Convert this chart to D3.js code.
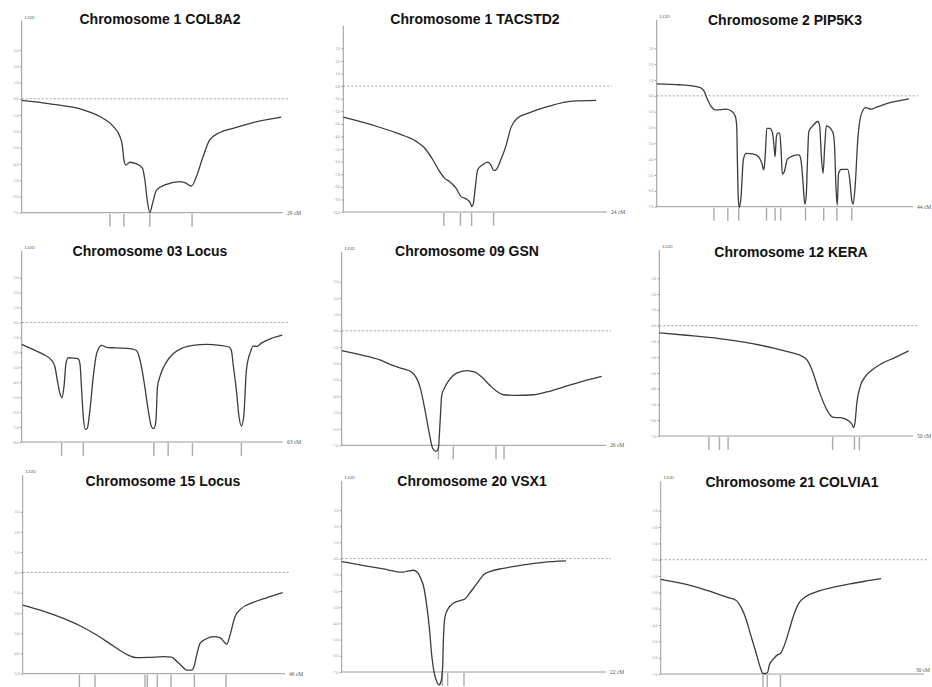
<!DOCTYPE html>
<html>
<head>
<meta charset="utf-8">
<script src="https://cdn.jsdelivr.net/npm/d3@7"></script>
<style>
  body { margin: 0; background: #fff; }
  svg { display: block; }
</style>
</head>
<body>
<svg id="chart" width="932" height="687"></svg>
<script>
//// DATA ([cM, LOD])

const titles = [
  "Chromosome 1 COL8A2", "Chromosome 1 TACSTD2", "Chromosome 2 PIP5K3",
  "Chromosome 03 Locus", "Chromosome 09 GSN", "Chromosome 12 KERA",
  "Chromosome 15 Locus", "Chromosome 20 VSX1", "Chromosome 21 COLVIA1"
]
// length of each map, shown at the end of the x axis
const lengthsCM = [29, 24, 44, 63, 26, 50, 46, 22, 30]
// lowest LOD tick on each panel (top tick is always 3.0)
const lodMins = [-7, -10, -7, -8, -7, -7, -5, -7, -7]
// panels that show the "LOD" caption at the top of the axis
const showLod = [true, false, true, true, true, true, true, true, true]

const col8a2Curve = [
  [0,-0.10],[3.14,-0.31],[6.83,-0.68],[8.68,-1.09],[10.16,-1.70],[10.90,-2.32],
  [11.19,-2.94],[11.34,-3.76],[11.56,-4.07],[12.01,-3.90],[12.74,-4.00],[13.41,-4.27],
  [13.67,-4.99],[13.93,-6.22],[14.22,-7.00],[14.52,-6.43],[14.96,-5.61],[16.07,-5.26],
  [17.55,-5.09],[18.10,-5.15],[18.84,-5.36],[19.39,-4.78],[20.13,-3.55],[20.87,-2.53],
  [21.98,-2.07],[23.46,-1.81],[25.67,-1.46],[28.81,-1.13]
]
const tacstd2Curve = [
  [0,-2.47],[3.02,-3.19],[4.83,-3.72],[6.64,-4.39],[7.40,-4.92],[8.15,-5.85],
  [8.76,-6.78],[9.21,-7.31],[9.66,-7.58],[10.26,-8.11],[10.72,-8.78],[11.17,-8.96],
  [11.53,-9.23],[11.71,-9.57],[11.83,-9.36],[12.02,-7.98],[12.23,-6.65],[12.68,-6.25],
  [13.13,-6.04],[13.43,-6.25],[13.68,-6.70],[13.89,-6.65],[14.34,-5.85],[14.79,-4.79],
  [15.25,-3.32],[15.85,-2.53],[16.91,-2.13],[18.72,-1.60],[20.83,-1.20],[23.00,-1.14]
]
const pip5k3Curve = [
  [0,0.76],[3.97,0.70],[7.38,0.53],[8.06,0.34],[8.63,-0.15],[9.37,-0.68],[10.10,-0.89],
  [11.92,-0.84],[12.94,-0.99],[13.51,-1.31],[13.74,-1.94],[13.85,-4.05],[14.02,-6.58],
  [14.19,-7.05],[14.48,-6.37],[14.87,-4.05],[15.33,-3.63],[16.46,-3.67],[17.49,-3.84],
  [18.05,-4.26],[18.39,-4.68],[18.62,-3.84],[18.90,-2.05],[19.42,-2.05],[19.87,-2.32],
  [20.15,-3.21],[20.32,-3.84],[20.55,-2.57],[20.78,-2.36],[21.12,-2.36],[21.35,-3.42],
  [21.57,-4.94],[21.91,-4.79],[22.42,-4.01],[23.28,-3.80],[24.41,-3.73],[24.75,-4.01],
  [25.09,-5.32],[25.43,-6.84],[25.66,-6.37],[25.89,-4.05],[26.11,-2.26],[26.68,-1.94],
  [27.70,-1.62],[27.99,-1.94],[28.27,-3.84],[28.56,-4.89],[28.84,-3.21],[29.12,-1.90],
  [29.63,-1.98],[30.26,-2.32],[30.54,-3.21],[30.77,-5.74],[30.99,-6.90],[31.22,-4.89],
  [31.68,-4.64],[32.81,-4.64],[33.15,-5.32],[33.49,-6.58],[33.72,-6.84],[34.06,-5.74],
  [34.52,-2.78],[35.08,-1.20],[35.88,-0.74],[36.79,-0.84],[37.75,-0.72],[39.74,-0.46],
  [41.73,-0.30],[43.31,-0.19]
]
const chr03Curve = [
  [0,-1.47],[2.81,-1.82],[5.22,-2.13],[7.22,-2.53],[8.03,-2.98],[8.59,-3.87],[9.23,-4.76],
  [9.71,-5.04],[10.19,-4.31],[10.67,-2.76],[11.24,-2.36],[12.44,-2.38],[13.64,-2.44],
  [14.04,-2.76],[14.45,-4.53],[14.85,-6.31],[15.33,-7.16],[15.81,-7.09],[16.45,-5.87],
  [17.25,-3.64],[18.06,-2.09],[19.26,-1.53],[20.30,-1.64],[21.67,-1.69],[23.67,-1.71],
  [26.48,-1.76],[27.69,-1.87],[28.33,-2.31],[28.89,-2.98],[29.69,-4.31],[30.50,-5.87],
  [31.30,-6.98],[31.86,-7.11],[32.34,-6.64],[32.74,-4.31],[33.30,-3.64],[34.91,-2.64],
  [36.51,-2.09],[38.92,-1.69],[41.33,-1.53],[44.54,-1.47],[47.75,-1.53],[50.00,-1.64],
  [50.56,-1.87],[50.96,-2.76],[51.76,-4.53],[52.40,-6.31],[52.97,-6.93],[53.53,-6.31],
  [54.17,-3.20],[55.13,-1.98],[55.77,-1.58],[56.74,-1.60],[57.78,-1.38],[60.59,-1.02],
  [62.84,-0.84]
]
const gsnCurve = [
  [0,-1.21],[1.80,-1.46],[3.77,-1.78],[5.08,-2.13],[6.07,-2.33],[6.89,-2.53],[7.31,-2.83],
  [7.71,-3.44],[8.20,-4.86],[8.62,-6.28],[8.95,-7.19],[9.28,-7.37],[9.51,-7.19],[9.67,-5.67],
  [9.84,-3.95],[10.16,-3.44],[10.66,-2.94],[11.31,-2.59],[12.30,-2.43],[13.12,-2.53],
  [13.77,-2.83],[14.59,-3.34],[15.25,-3.70],[15.90,-3.91],[17.21,-3.95],[18.85,-3.91],
  [20.17,-3.74],[21.80,-3.44],[23.77,-3.08],[25.58,-2.79]
]
const keraCurve = [
  [0,-0.46],[5.35,-0.61],[11.86,-0.82],[18.38,-1.14],[22.95,-1.46],[26.21,-1.73],
  [28.16,-1.94],[29.14,-2.19],[30.12,-2.83],[31.42,-4.09],[32.73,-5.15],[33.70,-5.68],
  [34.36,-5.82],[35.66,-5.84],[37.29,-6.03],[37.94,-6.24],[38.27,-6.46],[38.59,-6.10],
  [38.92,-4.94],[39.57,-3.88],[40.55,-3.25],[41.85,-2.83],[43.81,-2.41],[46.42,-2.03],
  [49.15,-1.60]
]
const chr15Curve = [
  [0,-1.61],[3.62,-1.91],[7.13,-2.27],[10.05,-2.63],[12.98,-3.09],[15.90,-3.63],
  [18.24,-4.05],[19.99,-4.21],[22.33,-4.19],[24.67,-4.16],[26.13,-4.18],[27.00,-4.38],
  [27.88,-4.62],[28.76,-4.82],[29.63,-4.82],[30.04,-4.65],[30.51,-4.08],[31.10,-3.50],
  [31.97,-3.31],[33.43,-3.17],[34.60,-3.22],[35.30,-3.42],[35.77,-3.55],[36.36,-3.09],
  [37.23,-2.19],[38.23,-1.81],[40.45,-1.48],[42.79,-1.25],[45.59,-1.00]
]
const vsx1Curve = [
  [0,-0.19],[1.53,-0.39],[3.47,-0.64],[5.08,-0.84],[5.55,-0.76],[5.96,-0.72],[6.30,-0.84],
  [6.57,-1.21],[6.85,-1.83],[7.07,-2.86],[7.30,-4.30],[7.49,-5.95],[7.68,-6.98],[7.91,-7.59],
  [8.10,-7.80],[8.27,-7.59],[8.41,-6.56],[8.46,-5.12],[8.60,-3.58],[8.88,-3.07],[9.29,-2.76],
  [9.85,-2.59],[10.26,-2.49],[10.54,-2.24],[10.96,-1.83],[11.37,-1.42],[11.79,-1.01],
  [12.34,-0.80],[13.45,-0.60],[15.12,-0.39],[16.78,-0.23],[18.67,-0.14]
]
const colvia1Curve = [
  [0,-1.20],[2.93,-1.51],[5.56,-1.93],[7.44,-2.28],[8.57,-2.48],[9.13,-2.89],[9.70,-3.60],
  [10.26,-4.62],[10.83,-5.64],[11.39,-6.66],[11.65,-6.97],[11.95,-6.97],[12.18,-6.90],
  [12.40,-6.42],[12.89,-6.05],[13.38,-5.80],[13.64,-5.74],[14.02,-5.34],[14.58,-4.42],
  [15.15,-3.40],[15.71,-2.69],[16.46,-2.28],[17.97,-1.93],[19.85,-1.67],[21.73,-1.47],
  [23.23,-1.32],[25.11,-1.16]
]
const curves = [col8a2Curve, tacstd2Curve, pip5k3Curve, chr03Curve, gsnCurve,
  keraCurve, chr15Curve, vsx1Curve, colvia1Curve]

// marker positions (cM) drawn under the x axis
const markers = [
  [9.79, 11.34, 14.22, 18.91],
  [9.15, 10.66, 11.68, 13.68],
  [9.82, 12.21, 14.08, 18.85, 20.32, 21.29, 25.55, 28.67, 30.94, 33.49],
  [9.63, 14.85, 31.86, 35.31, 41.17, 52.97],
  [9.51, 10.98, 15.18, 15.97],
  [9.78, 11.86, 13.56, 34.16, 38.46, 39.44],
  [9.94, 12.68, 21.45, 21.86, 23.61, 26.01, 30.10, 35.65],
  [8.38, 8.82, 10.18],
  [11.65, 12.14, 13.64]
]

//// LAYOUT (pixel frame of each panel)
// axisX: y axis position, xEnd: end of x axis, yTop: LOD 3.0, yBot: lowest tick, titleX/titleY
const frames = [
  {axisX: 21.7, xEnd: 283, yTop: 50, yBot: 212.7, titleX: 160, titleY: 24},
  {axisX: 343.3, xEnd: 607, yTop: 48.3, yBot: 212, titleX: 475, titleY: 24},
  {axisX: 656.7, xEnd: 913, yTop: 48.3, yBot: 206.7, titleX: 785, titleY: 25},
  {axisX: 21.7, xEnd: 283, yTop: 277.7, yBot: 442, titleX: 150, titleY: 256},
  {axisX: 341.7, xEnd: 606, yTop: 281.7, yBot: 445.3, titleX: 467, titleY: 256},
  {axisX: 659.3, xEnd: 913, yTop: 278.3, yBot: 436, titleX: 791, titleY: 257},
  {axisX: 22.7, xEnd: 285, yTop: 511.7, yBot: 673.7, titleX: 163, titleY: 486},
  {axisX: 341.7, xEnd: 606, yTop: 510, yBot: 672, titleX: 472, titleY: 486},
  {axisX: 660.7, xEnd: 924, yTop: 510.7, yBot: 674, titleX: 792, titleY: 487}
]

const W = 932
const svg = d3.select("#chart")
const axisColor = "#9a9a9a"
const lineColor = "#3c3c3c"

function drawPanel(i) {
  const f = frames[i]
  const g = svg.append("g").attr("class", "panel")

  const x = d3.scaleLinear().domain([0, lengthsCM[i]]).range([f.axisX, f.xEnd])
  const y = d3.scaleLinear().domain([lodMins[i], 3]).range([f.yBot, f.yTop])

  // title
  g.append("text")
    .attr("x", f.titleX).attr("y", f.titleY)
    .attr("text-anchor", "middle")
    .style("font-family", "'Liberation Sans', Arial, sans-serif")
    .style("font-weight", "bold")
    .style("font-size", "14px")
    .style("fill", "#111")
    .text(titles[i])

  // y axis line runs above the top tick
  const axisTop = y(3) - (y(2) - y(3)) * 1.8
  g.append("line")
    .attr("x1", f.axisX).attr("x2", f.axisX)
    .attr("y1", axisTop).attr("y2", f.yBot)
    .attr("stroke", axisColor).attr("stroke-width", 1)

  const yAxis = d3.axisLeft(y)
    .tickValues(d3.range(lodMins[i], 4))
    .tickSize(2)
    .tickPadding(1.5)
    .tickFormat(d3.format(".1f"))
  const ya = g.append("g")
    .attr("transform", `translate(${f.axisX},0)`)
    .call(yAxis)
  ya.select(".domain").remove()
  ya.selectAll("line").attr("stroke", axisColor)
  ya.selectAll("text")
    .style("font-size", "3.5px")
    .style("font-family", "'Liberation Serif', serif")
    .style("fill", "#888")

  if (showLod[i])
    g.append("text")
      .attr("x", f.axisX + 3).attr("y", axisTop - 2)
      .style("font-family", "'Liberation Serif', serif")
      .style("font-size", "5px")
      .style("fill", "#666")
      .text("LOD")

  // x axis
  g.append("line")
    .attr("x1", f.axisX).attr("x2", f.xEnd)
    .attr("y1", f.yBot).attr("y2", f.yBot)
    .attr("stroke", axisColor).attr("stroke-width", 1)
  // length label; pulled inside (above the axis end) when it would run off the page
  const fits = f.xEnd + 18 < W
  g.append("text")
    .attr("x", fits ? f.xEnd + 4 : W - 2)
    .attr("y", fits ? f.yBot + 1.8 : f.yBot - 2.5)
    .attr("text-anchor", fits ? "start" : "end")
    .style("font-family", "'Liberation Serif', serif")
    .style("font-size", "5.5px")
    .style("fill", "#555")
    .text(lengthsCM[i] + " cM")

  // dashed zero line
  g.append("line")
    .attr("x1", f.axisX).attr("x2", Math.min(f.xEnd + 5, W))
    .attr("y1", y(0)).attr("y2", y(0))
    .attr("stroke", "#8a8a8a").attr("stroke-width", 0.8)
    .attr("stroke-dasharray", "2,2")

  // markers under the axis
  g.selectAll(".marker")
    .data(markers[i])
    .join("line")
    .attr("class", "marker")
    .attr("x1", d => x(d)).attr("x2", d => x(d))
    .attr("y1", f.yBot + 1).attr("y2", f.yBot + 14)
    .attr("stroke", "#aaa").attr("stroke-width", 1.4)

  // LOD curve
  g.append("path")
    .datum(curves[i])
    .attr("d", d3.line().x(d => x(d[0])).y(d => y(d[1])).curve(d3.curveMonotoneX))
    .attr("fill", "none")
    .attr("stroke", lineColor)
    .attr("stroke-width", 1.3)
}

titles.forEach((_, i) => drawPanel(i))
</script>
</body>
</html>
